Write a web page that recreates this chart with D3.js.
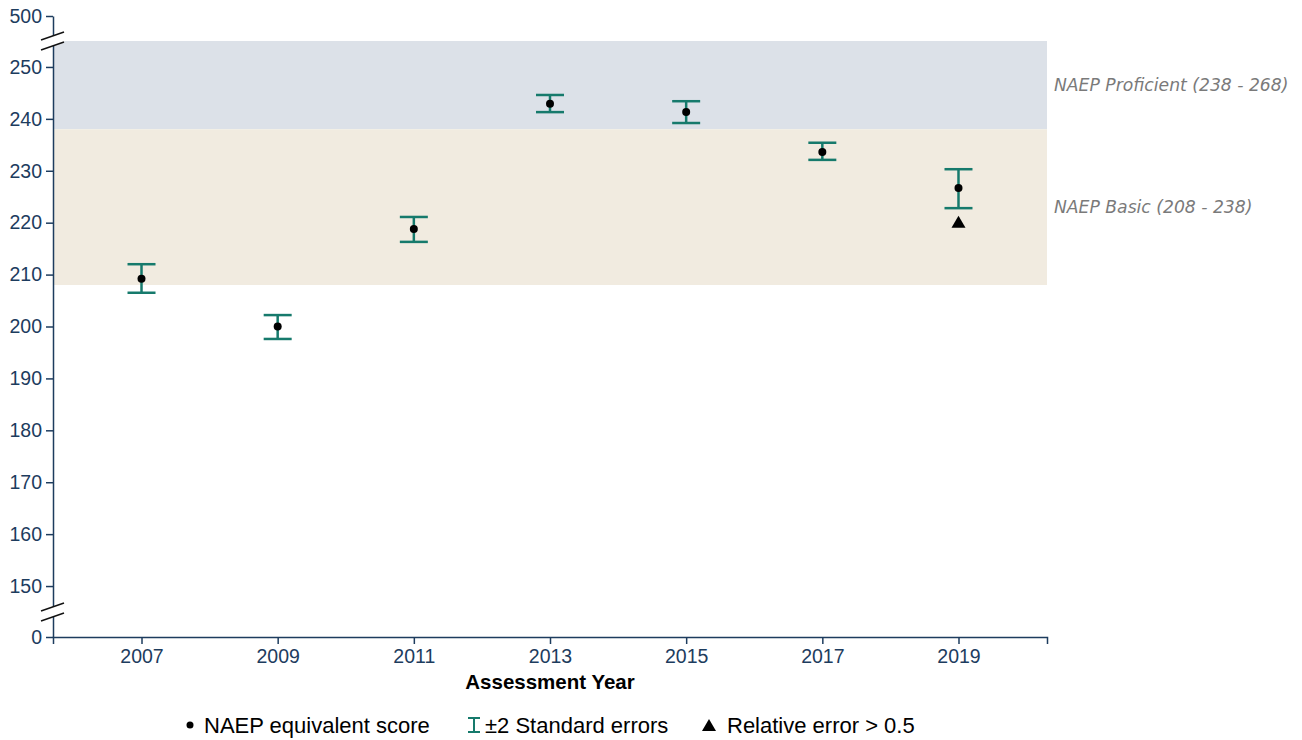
<!DOCTYPE html>
<html>
<head>
<meta charset="utf-8">
<script src="https://cdn.jsdelivr.net/npm/d3@7"></script>
<style>
  body { margin: 0; background: #fff; }
  svg { font-family: "Liberation Sans", Arial, Helvetica, sans-serif; }
  .axis path, .axis line { stroke: #1d3c5e; stroke-width: 1.5; }
  .axis text { fill: #1d3c5e; font-size: 19.5px; }
</style>
</head>
<body>
<div id="chart"></div>
<script>
// data
const years = [2007, 2009, 2011, 2013, 2015, 2017, 2019];
const scores = [209.2, 200.0, 218.8, 242.9, 241.3, 233.6, 226.7];
const upper = [212.0, 202.2, 221.1, 244.6, 243.4, 235.4, 230.3];
const lower = [206.5, 197.6, 216.3, 241.3, 239.2, 232.1, 222.8];
const flagYears = [2019];
const flagValues = [219.8];
const bandNames = ["NAEP Proficient (238 - 268)", "NAEP Basic (208 - 238)"];
const bandLow = [238, 208];
const bandHigh = [268, 238];
const yTicks = [0, 150, 160, 170, 180, 190, 200, 210, 220, 230, 240, 250, 500];

const WIDTH = 1302;
const HEIGHT = 740;
const BAND_TOP = 255; // value where the band is cut by the axis break

const svg = d3.select("#chart")
    .append("svg")
    .attr("width", WIDTH)
    .attr("height", HEIGHT);

let xScale = d3.scaleLinear()
    .domain([2005.7, 2020.3])
    .range([53, 1047]);

// broken axis: 0 .. 145 squeezed, 145 .. 255 main, 255 .. 500 squeezed
let yScale = d3.scaleLinear()
    .domain([0, 145, BAND_TOP, 500])
    .range([637, 612, 41, 16]);

// background bands
let bands = bandNames.map((name, i) => ({ name: name, lo: bandLow[i], hi: Math.min(bandHigh[i], BAND_TOP) }));
const bandColors = ["#dce1e8", "#f1ebe0"];

svg.append("g")
    .selectAll("rect")
    .data(bands)
    .enter()
    .append("rect")
    .attr("x", xScale.range()[0])
    .attr("width", xScale.range()[1] - xScale.range()[0])
    .attr("y", d => yScale(d.hi))
    .attr("height", d => yScale(d.lo) - yScale(d.hi))
    .attr("fill", (d, i) => bandColors[i]);

svg.append("g")
    .selectAll("text")
    .data(bands)
    .enter()
    .append("text")
    .attr("x", 1054)
    .attr("y", d => yScale((d.lo + d.hi) / 2))
    .attr("dy", "0.35em")
    .style("font-family", "Verdana, 'DejaVu Sans', sans-serif")
    .style("font-style", "italic")
    .style("font-size", "17.2px")
    .attr("fill", "#7a7a7a")
    .text(d => d.name);

// axes
svg.append("g")
    .classed("axis", true)
    .attr("transform", "translate(" + xScale.range()[0] + ",0)")
    .call(d3.axisLeft(yScale).tickValues(yTicks).tickSize(7).tickSizeOuter(0).tickFormat(d3.format("d")))
    .call(g => g.selectAll("text").attr("x", -11));

svg.append("g")
    .classed("axis", true)
    .attr("transform", "translate(0," + yScale(0) + ")")
    .call(d3.axisBottom(xScale).tickValues(years).tickSize(7).tickFormat(d3.format("d")))
    .call(g => g.selectAll("text").attr("y", 12));

// axis break marks
let breaks = [yScale(BAND_TOP), yScale(145)];
breaks.forEach(by => {
    let x0 = xScale.range()[0];
    svg.append("path")
        .attr("d", "M" + (x0 - 12) + "," + (by - 1) + "L" + (x0 + 11) + "," + (by - 9) +
            "L" + (x0 + 11) + "," + (by + 1) + "L" + (x0 - 12) + "," + (by + 9) + "Z")
        .attr("fill", "#fff");
    [-5, 5].forEach(off => {
        svg.append("line")
            .attr("x1", x0 - 12).attr("y1", by + off + 4)
            .attr("x2", x0 + 11).attr("y2", by + off - 4)
            .attr("stroke", "#111")
            .attr("stroke-width", 1.5);
    });
});

svg.append("text")
    .attr("x", (xScale(2013)))
    .attr("y", 689)
    .attr("text-anchor", "middle")
    .style("font-size", "20.5px")
    .style("font-weight", "bold")
    .attr("fill", "#000")
    .text("Assessment Year");

// error bars
const TEAL = "#167a6c";
const CAP = 14;
let rows = years.map((y, i) => ({ year: y, score: scores[i], hi: upper[i], lo: lower[i] }));

let bars = svg.append("g")
    .selectAll("g")
    .data(rows)
    .enter()
    .append("g")
    .attr("stroke", TEAL)
    .attr("stroke-width", 2.5);

bars.append("line")
    .attr("x1", d => xScale(d.year)).attr("x2", d => xScale(d.year))
    .attr("y1", d => yScale(d.hi)).attr("y2", d => yScale(d.lo));
bars.append("line")
    .attr("x1", d => xScale(d.year) - CAP).attr("x2", d => xScale(d.year) + CAP)
    .attr("y1", d => yScale(d.hi)).attr("y2", d => yScale(d.hi));
bars.append("line")
    .attr("x1", d => xScale(d.year) - CAP).attr("x2", d => xScale(d.year) + CAP)
    .attr("y1", d => yScale(d.lo)).attr("y2", d => yScale(d.lo));

svg.append("g")
    .selectAll("circle")
    .data(rows)
    .enter()
    .append("circle")
    .attr("cx", d => xScale(d.year))
    .attr("cy", d => yScale(d.score))
    .attr("r", 4)
    .attr("fill", "#000");

svg.append("g")
    .selectAll("path")
    .data(flagYears.map((y, i) => ({ year: y, value: flagValues[i] })))
    .enter()
    .append("path")
    .attr("d", d3.symbol().type(d3.symbolTriangle).size(85))
    .attr("transform", d => "translate(" + xScale(d.year) + "," + yScale(d.value) + ")")
    .attr("fill", "#000");

// legend
let legend = svg.append("g").attr("transform", "translate(0,725)");
legend.append("circle").attr("cx", 190).attr("cy", 0).attr("r", 3.5).attr("fill", "#000");
legend.append("text").attr("x", 204).attr("dy", "0.35em").style("font-size", "22px").text("NAEP equivalent score");

let icon = legend.append("g").attr("stroke", TEAL).attr("stroke-width", 2);
icon.append("line").attr("x1", 468).attr("x2", 480).attr("y1", -7).attr("y2", -7);
icon.append("line").attr("x1", 468).attr("x2", 480).attr("y1", 7).attr("y2", 7);
icon.append("line").attr("x1", 474).attr("x2", 474).attr("y1", -7).attr("y2", 7);
legend.append("text").attr("x", 485).attr("dy", "0.35em").style("font-size", "22px").text("±2 Standard errors");

legend.append("path")
    .attr("d", d3.symbol().type(d3.symbolTriangle).size(85))
    .attr("transform", "translate(709,2)")
    .attr("fill", "#000");
legend.append("text").attr("x", 727).attr("dy", "0.35em").style("font-size", "22px").text("Relative error > 0.5");
</script>
</body>
</html>
